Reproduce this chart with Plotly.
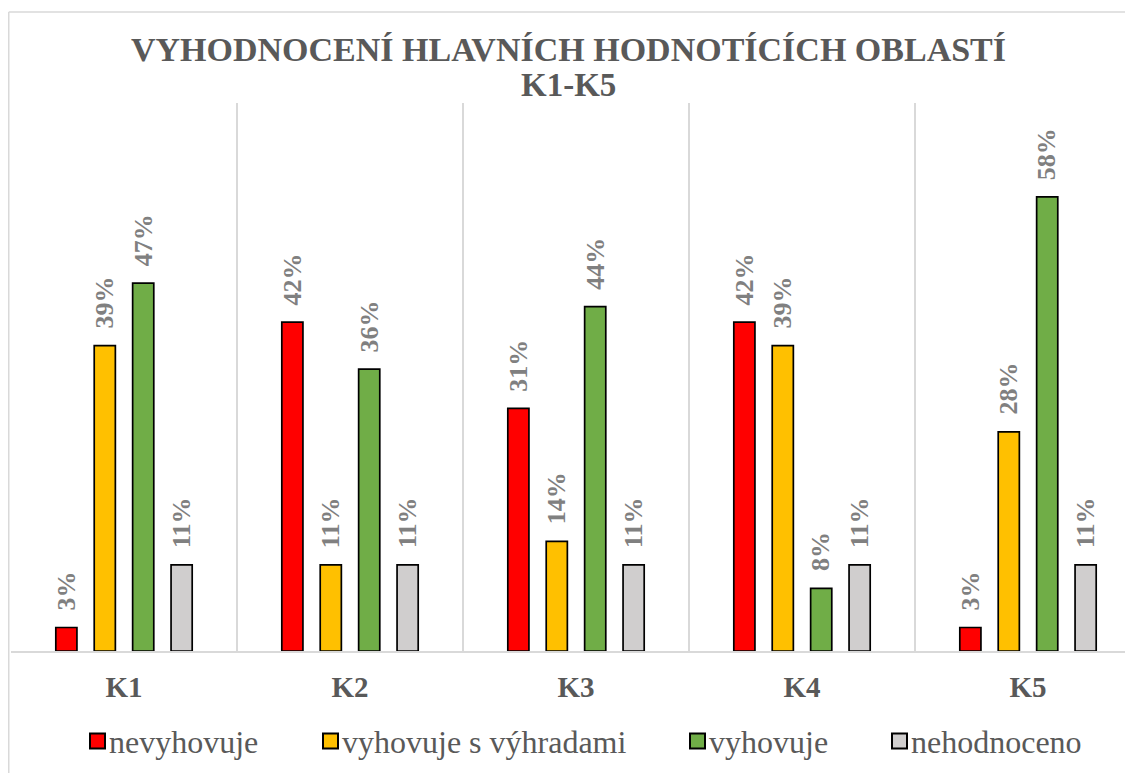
import plotly.graph_objects as go

categories = ["K1", "K2", "K3", "K4", "K5"]
series_names = ["nevyhovuje", "vyhovuje s výhradami", "vyhovuje", "nehodnoceno"]
nevyhovuje = [0.03, 0.42, 0.31, 0.42, 0.03]
vyhovuje_s_vyhradami = [0.39, 0.11, 0.14, 0.39, 0.28]
vyhovuje = [0.47, 0.36, 0.44, 0.08, 0.58]
nehodnoceno = [0.11, 0.11, 0.11, 0.11, 0.11]
series_values = [nevyhovuje, vyhovuje_s_vyhradami, vyhovuje, nehodnoceno]
colors = ["#FF0000", "#FFC000", "#70AD47", "#D0CECE"]

W, H = 1133, 773
L, R, T, B = 3, 0, 95, 130
plot_w = W - L - R
plot_h = H - T - B
bargap = 0.32
groupgap = 0.45
cat_px = plot_w / len(categories)
slot_px = cat_px * (1 - bargap) / len(series_names)

FONT = "Liberation Serif"
TXT = "#595959"


def px_x(px):
    return (px - L) / plot_w


def px_y(py):
    return 1 - (py - T) / plot_h


fig = go.Figure()
for name, vals, col in zip(series_names, series_values, colors):
    fig.add_trace(go.Bar(
        x=categories, y=vals, name=name,
        marker=dict(color=col, line=dict(color="#000000", width=1.7)),
        hoverinfo="skip", showlegend=False,
    ))

annotations = []
for i, vals in enumerate(series_values):
    for c, v in zip(categories, vals):
        annotations.append(dict(
            x=c, y=v, xref="x", yref="y",
            text=f"<b>{round(v*100)}%</b>", showarrow=False,
            textangle=-90, yanchor="bottom", xanchor="center",
            xshift=(i - 1.5) * slot_px, yshift=15,
            font=dict(family=FONT, size=26, color="#808080"),
        ))

# title as two centred lines
annotations.append(dict(
    text="<b>VYHODNOCENÍ HLAVNÍCH HODNOTÍCÍCH OBLASTÍ</b>", xref="paper", yref="paper",
    x=px_x(W / 2 - 6), y=px_y(41), xanchor="center", yanchor="middle",
    showarrow=False, font=dict(family=FONT, size=34, color=TXT),
))
annotations.append(dict(
    text="<b>K1-K5</b>", xref="paper", yref="paper",
    x=px_x(W / 2 - 6), y=px_y(77), xanchor="center", yanchor="middle",
    showarrow=False, font=dict(family=FONT, size=33, color=TXT),
))

# outer chart border
bx0 = px_x(0.75)
by1 = px_y(4)
shapes = [
    dict(type="line", xref="paper", yref="paper", x0=bx0, x1=bx0, y0=by1,
         y1=px_y(H + 10), line=dict(color="#D9D9D9", width=1.5)),
    dict(type="line", xref="paper", yref="paper", x0=bx0, x1=px_x(W + 10), y0=by1, y1=by1,
         line=dict(color="#D9D9D9", width=1.5)),
]

# legend (square swatch + label for each series)
legend_swatch_left = [82, 315, 682, 884]
legend_cy = 733
sw = 15
for name, col, x0 in zip(series_names, colors, legend_swatch_left):
    shapes.append(dict(
        type="rect", xref="paper", yref="paper",
        x0=px_x(x0), x1=px_x(x0 + sw), y0=px_y(legend_cy - sw / 2), y1=px_y(legend_cy + sw / 2),
        fillcolor=col, line=dict(color="#000000", width=2),
    ))
    annotations.append(dict(
        text=name, xref="paper", yref="paper", x=px_x(x0 + sw + 2), y=px_y(legend_cy + 1),
        xanchor="left", yanchor="middle", showarrow=False,
        font=dict(family=FONT, size=32, color=TXT),
    ))

fig.update_layout(
    width=W, height=H,
    margin=dict(l=L, r=R, t=T, b=B),
    paper_bgcolor="white", plot_bgcolor="white",
    barmode="group", bargap=bargap, bargroupgap=groupgap,
    xaxis=dict(
        type="category", tickson="boundaries", showgrid=True,
        gridcolor="#D9D9D9", gridwidth=1.5, showline=True, linecolor="#D9D9D9",
        linewidth=1.5, ticks="", ticklabelstandoff=9,
        tickfont=dict(family=FONT, size=29, color=TXT, weight="bold"),
    ),
    yaxis=dict(range=[0, 0.70], showgrid=False, showticklabels=False,
               zeroline=False, showline=False),
    annotations=annotations,
    shapes=shapes,
    showlegend=False,
)

fig.write_html("out.html")
